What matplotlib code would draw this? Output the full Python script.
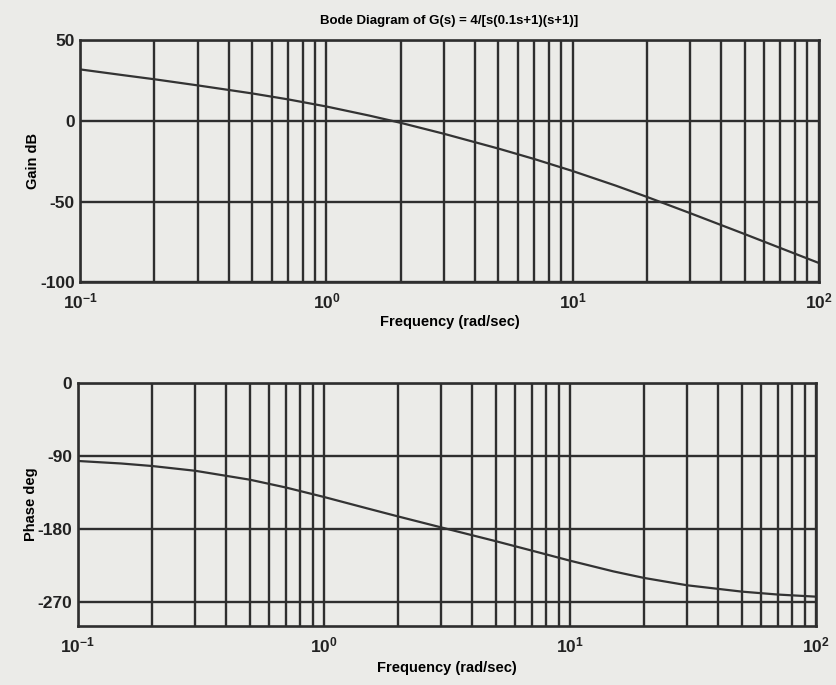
import numpy as np
import matplotlib
matplotlib.use('Agg')
import matplotlib.pyplot as plt
from matplotlib.ticker import LogLocator, NullFormatter

# Values
freq = [0.1, 0.15, 0.2, 0.3, 0.5, 0.7, 1, 1.5, 2, 3, 5, 7, 10, 15, 20, 30, 50, 70, 100]
gain_db = [32.0, 28.4, 25.9, 22.1, 17.1, 13.4, 9.0, 3.3, -1.1, -7.9, -17.1, -23.6,
           -31.0, -40.1, -47.0, -57.1, -70.1, -78.8, -88.0]
phase_deg = [-96.3, -99.4, -102.5, -108.4, -119.4, -129.0, -140.7, -154.8, -164.7,
             -178.3, -195.3, -206.9, -219.3, -232.5, -240.6, -249.7, -257.5, -261.1, -263.7]

gain_ticks = [50, 0, -50, -100]
phase_ticks = [0, -90, -180, -270]
title = 'Bode Diagram of G(s) = 4/[s(0.1s+1)(s+1)]'
xlab = 'Frequency (rad/sec)'

plt.rcParams['font.family'] = ['Liberation Sans', 'DejaVu Sans']
plt.rcParams['font.weight'] = 'bold'
plt.rcParams['axes.unicode_minus'] = False
plt.rcParams['mathtext.fontset'] = 'custom'
plt.rcParams['mathtext.rm'] = 'Liberation Sans:bold'
plt.rcParams['mathtext.default'] = 'rm'

bg = '#ebebe8'
ink = '#2e2e2e'

fig = plt.figure(figsize=(8.37, 6.85), dpi=100, facecolor=bg)
ax1 = fig.add_axes([0.096, 0.588, 0.882, 0.353])
ax2 = fig.add_axes([0.093, 0.086, 0.882, 0.355])


def style(ax, yticks, ylim):
    ax.set_facecolor(bg)
    ax.set_xscale('log')
    ax.set_xlim(0.1, 100)
    ax.set_ylim(*ylim)
    ax.set_yticks(yticks)
    ax.xaxis.set_major_locator(LogLocator(base=10))
    ax.xaxis.set_minor_locator(LogLocator(base=10, subs=np.arange(2, 10)))
    ax.xaxis.set_minor_formatter(NullFormatter())
    ax.grid(True, which='both', axis='x', color=ink, lw=1.7)
    ax.grid(True, which='major', axis='y', color=ink, lw=1.7)
    ax.tick_params(which='both', length=0, labelsize=12.5, colors='#222222', pad=4)
    ax.tick_params(axis='x', pad=7)
    for lbl in ax.get_xticklabels() + ax.get_yticklabels():
        lbl.set_fontweight('bold')
    for s in ax.spines.values():
        s.set_color(ink)
        s.set_linewidth(1.9)
    ax.set_axisbelow(True)


style(ax1, gain_ticks, (-100, 50))
ax1.plot(freq, gain_db, color='#333333', lw=1.6)
ax1.set_ylabel('Gain dB', fontsize=10.5, fontweight='bold', labelpad=0)
ax1.set_xlabel(xlab, fontsize=10.5, fontweight='bold', labelpad=2)
ax1.set_title(title, fontsize=9.5, fontweight='bold', pad=12)

style(ax2, phase_ticks, (-300, 0))
ax2.plot(freq, phase_deg, color='#333333', lw=1.6)
ax2.set_ylabel('Phase deg', fontsize=10.5, fontweight='bold', labelpad=0)
ax2.set_xlabel(xlab, fontsize=10.5, fontweight='bold', labelpad=4)

fig.savefig('out.png', dpi=100, facecolor=bg)
